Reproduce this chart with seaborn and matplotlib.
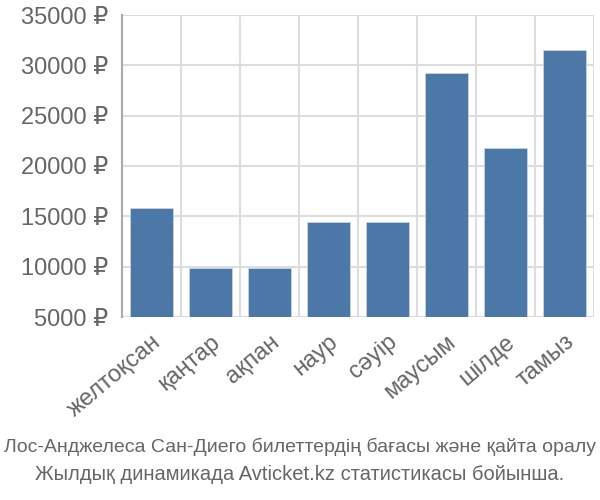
import matplotlib
matplotlib.use("Agg")
import matplotlib.pyplot as plt
import seaborn as sns
import pandas as pd
import numpy as np

months = ["желтоқсан", "қаңтар", "ақпан", "наур", "сәуір", "маусым", "шілде", "тамыз"]
prices = [15800, 9850, 9850, 14450, 14450, 29200, 21800, 31500]
yticks = [5000, 10000, 15000, 20000, 25000, 30000, 35000]
title_lines = ["Лос-Анджелеса Сан-Диего билеттердің бағасы және қайта оралу",
               "Жылдық динамикада Avticket.kz статистикасы бойынша."]

sns.set_style("white")
plt.rcParams['font.family'] = ['Liberation Sans', 'DejaVu Sans']

df = pd.DataFrame({"month": months, "price": prices})

fig = plt.figure(figsize=(6, 5), dpi=100)
ax = fig.add_axes([0.203, 0.366, 0.787, 0.604])
sns.barplot(data=df, x="month", y="price", color="#4c78a8", saturation=1, width=0.72,
            edgecolor="#c8d4e6", linewidth=0.6, ax=ax, zorder=3)

ax.set_ylim(5000, 35000)
ax.set_xlim(-0.5, len(months) - 0.5)
ax.set_yticks(yticks)
ax.set_yticklabels([f"{v} ₽" for v in yticks])
ax.set_xlabel("")
ax.set_ylabel("")

ax.set_xticks(np.arange(-0.5, len(months), 1.0), minor=True)
ax.tick_params(axis="x", which="minor", length=10, color="#dddddd", width=1.5, direction="out")
ax.tick_params(axis="x", which="major", length=0, pad=10)
ax.tick_params(axis="y", which="major", length=8, color="#dddddd", width=1.5, pad=2)
ax.grid(True, axis="y", which="major", color="#dddddd", linewidth=1.5, zorder=0)
ax.grid(True, axis="x", which="minor", color="#dddddd", linewidth=1.5, zorder=0)
ax.set_axisbelow(True)

for s in ["top", "right", "bottom"]:
    ax.spines[s].set_visible(False)
ax.spines["left"].set_color("#aaaaaa")
ax.spines["left"].set_linewidth(1.5)

for lbl in ax.get_yticklabels():
    lbl.set_fontsize(17)
    lbl.set_color("#666666")
for lbl in ax.get_xticklabels():
    lbl.set_fontsize(17)
    lbl.set_color("#666666")
    lbl.set_rotation(40)
    lbl.set_ha("right")
    lbl.set_rotation_mode("anchor")

fig.text(0.5, 0.106, title_lines[0], ha="center", va="center", fontsize=14, color="#666666")
fig.text(0.5, 0.05, title_lines[1], ha="center", va="center", fontsize=14.5, color="#666666")

fig.savefig("out.png", dpi=100)
